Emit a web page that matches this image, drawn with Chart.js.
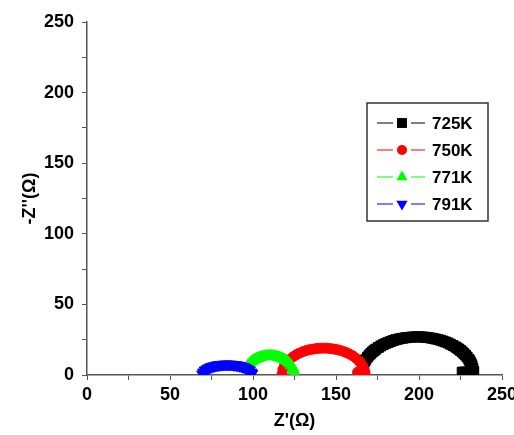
<!DOCTYPE html>
<html>
<head>
<meta charset="utf-8">
<script src="https://cdn.jsdelivr.net/npm/chart.js@4"></script>
<style>
  html, body { margin: 0; padding: 0; background: #fff; overflow: hidden; }
  #wrap { width: 514px; height: 435px; overflow: hidden; }
</style>
</head>
<body>
<div id="wrap"><canvas id="myChart" width="530" height="435"></canvas></div>
<script>
// values (Z' and -Z'' in ohm)
const seriesNames = ['725K', '750K', '771K', '791K'];
const seriesColors = ['#000000', '#ff0000', '#00ff00', '#0000ff'];

const k725X = [166, 166.5, 167, 167.5, 168, 169, 170, 171, 172, 173, 174, 175.5, 177, 178.5, 180, 181.5, 183, 184.5, 186, 187.5, 189, 190.5, 192, 193.5, 195, 196.5, 198, 199.5, 201, 202.5, 204, 205.5, 207, 208.5, 210, 211.5, 213, 214.5, 216, 217.5, 219, 220.5, 222, 223, 224, 225, 226, 227, 228, 229, 230, 230.5, 231, 231.5, 232, 232.5, 233, 232, 231, 230, 229, 228, 227, 226];
const k725Y = [6.5, 7.9, 9.1, 10.2, 11.1, 12.7, 14.1, 15.3, 16.4, 17.4, 18.3, 19.5, 20.6, 21.5, 22.4, 23.1, 23.8, 24.4, 25.0, 25.4, 25.8, 26.1, 26.4, 26.6, 26.8, 26.9, 27.0, 27.0, 27.0, 26.9, 26.7, 26.5, 26.2, 25.9, 25.5, 25.1, 24.6, 24.0, 23.4, 22.7, 21.8, 20.9, 19.9, 19.1, 18.3, 17.4, 16.4, 15.3, 14.1, 12.7, 11.1, 10.2, 9.1, 7.9, 6.5, 4.6, 2.5, 2, 2, 2, 2, 2, 2, 2];

const k750X = [117.5, 118, 119, 120, 122, 124, 126, 128, 130, 132, 134, 136, 138, 140, 142, 144, 146, 148, 150, 152, 154, 156, 158, 160, 162, 164, 165, 166, 167, 167.5, 165, 163];
const k750Y = [0.5, 3.8, 6.5, 8.3, 10.9, 12.8, 14.3, 15.5, 16.5, 17.3, 17.9, 18.3, 18.7, 18.9, 19.0, 19.0, 18.8, 18.5, 18.1, 17.6, 16.9, 16.0, 14.9, 13.6, 11.9, 9.7, 8.3, 6.5, 3.8, 1.5, 2, 2];

const k771X = [96, 96.5, 97, 98, 99, 100, 101, 102, 103, 104, 105, 106, 107, 108, 109, 110, 111, 112, 113, 114, 115, 116, 117, 118, 119, 120, 121, 122, 123, 124, 124.5, 125];
const k771Y = [4.8, 5.9, 6.7, 8.1, 9.2, 10.1, 10.8, 11.4, 11.9, 12.4, 12.7, 13.0, 13.2, 13.4, 13.5, 13.5, 13.5, 13.4, 13.2, 13.0, 12.7, 12.4, 11.9, 11.4, 10.8, 10.1, 9.2, 8.1, 6.7, 4.8, 3.5, 1.0];

const k791X = [69.5, 70, 71, 72, 73, 74, 75, 76, 77, 78, 79, 80, 81, 82, 83, 84, 85, 86, 87, 88, 89, 90, 91, 92, 93, 94, 95, 96, 97, 98, 99, 99.5];
const k791Y = [0.5, 1.9, 3.3, 4.1, 4.8, 5.4, 5.8, 6.2, 6.5, 6.8, 7.0, 7.2, 7.3, 7.4, 7.5, 7.5, 7.5, 7.5, 7.4, 7.3, 7.2, 7.0, 6.8, 6.5, 6.2, 5.8, 5.4, 4.8, 4.1, 3.3, 1.9, 1.0];

const axisMin = 0;
const axisMax = 250;
const tickStep = 25;

function toPoints(xs, ys) {
  return xs.map((x, i) => ({ x, y: ys[i] }));
}

const FONT = "'Liberation Sans', Arial, sans-serif";
const axisColor = '#555555';

const markerStyles = [
  { pointStyle: 'rect', radius: 7, rotation: 0 },
  { pointStyle: 'circle', radius: 5, rotation: 0 },
  { pointStyle: 'triangle', radius: 6.5, rotation: 0 },
  { pointStyle: 'triangle', radius: 6.5, rotation: 180 },
];

const allX = [k725X, k750X, k771X, k791X];
const allY = [k725Y, k750Y, k771Y, k791Y];

const datasets = seriesNames.map((name, i) => ({
  label: name,
  data: toPoints(allX[i], allY[i]),
  showLine: false,
  pointStyle: markerStyles[i].pointStyle,
  pointRadius: markerStyles[i].radius,
  pointRotation: markerStyles[i].rotation,
  pointBackgroundColor: seriesColors[i],
  pointBorderColor: seriesColors[i],
  pointBorderWidth: 1,
  order: 4 - i,
}));

// boxed legend with line-marker-line symbols, drawn inside the plot
const boxLegend = {
  id: 'boxLegend',
  afterDraw(chart) {
    const { ctx, chartArea } = chart;
    const left = chartArea.right - 135;
    const top = chartArea.top + 81;
    const w = 121;
    const h = 118;
    ctx.save();
    ctx.strokeStyle = '#333333';
    ctx.lineWidth = 1.5;
    ctx.strokeRect(left, top, w, h);
    seriesNames.forEach((name, i) => {
      const y = top + 20 + i * 27;
      const cx = left + 35;
      ctx.strokeStyle = seriesColors[i];
      ctx.lineWidth = 1.2;
      ctx.beginPath();
      ctx.moveTo(left + 10, y);
      ctx.lineTo(cx - 9, y);
      ctx.moveTo(cx + 9, y);
      ctx.lineTo(left + 58, y);
      ctx.stroke();
      ctx.fillStyle = seriesColors[i];
      Chart.helpers.drawPoint(ctx, {
        pointStyle: markerStyles[i].pointStyle,
        rotation: markerStyles[i].rotation,
        radius: markerStyles[i].radius,
        borderWidth: 0,
      }, cx, y);
      ctx.fillStyle = '#000';
      ctx.font = 'bold 17px ' + FONT;
      ctx.textBaseline = 'middle';
      ctx.textAlign = 'left';
      ctx.fillText(name, left + 65, y + 1);
    });
    ctx.restore();
  },
};

const tickFont = { family: FONT, size: 18, weight: 'bold' };

new Chart(document.getElementById('myChart').getContext('2d'), {
  type: 'scatter',
  data: { datasets },
  plugins: [boxLegend],
  options: {
    responsive: false,
    animation: false,
    layout: { padding: { top: 22, left: 0, right: 28, bottom: 0 } },
    plugins: {
      legend: { display: false },
      tooltip: { enabled: false },
    },
    scales: {
      x: {
        type: 'linear',
        min: axisMin,
        max: axisMax,
        afterFit(scale) { scale.height = 60; },
        border: { display: true, color: axisColor, width: 1.5 },
        grid: { drawOnChartArea: false, drawTicks: true, tickLength: 5, color: axisColor },
        ticks: {
          stepSize: tickStep,
          color: '#000',
          font: tickFont,
          padding: 4,
          maxRotation: 0,
          autoSkip: false,
          callback: (v) => (v % 50 === 0 ? v : ''),
        },
        title: {
          display: true,
          text: "Z'(\u03A9)",
          color: '#000',
          font: { family: FONT, size: 18, weight: 'bold' },
          padding: { top: 0, bottom: 3 },
        },
      },
      y: {
        type: 'linear',
        min: axisMin,
        max: axisMax,
        afterFit(scale) { scale.width = 87; },
        border: { display: true, color: axisColor, width: 1.5 },
        grid: { drawOnChartArea: false, drawTicks: true, tickLength: 5, color: axisColor },
        ticks: {
          stepSize: tickStep,
          color: '#000',
          font: tickFont,
          padding: 8,
          autoSkip: false,
          callback: (v) => (v % 50 === 0 ? v : ''),
        },
        title: {
          display: true,
          text: "-Z''(\u03A9)",
          color: '#000',
          font: { family: FONT, size: 18, weight: 'bold' },
          padding: { top: 19, bottom: 0 },
        },
      },
    },
  },
});
</script>
</body>
</html>
